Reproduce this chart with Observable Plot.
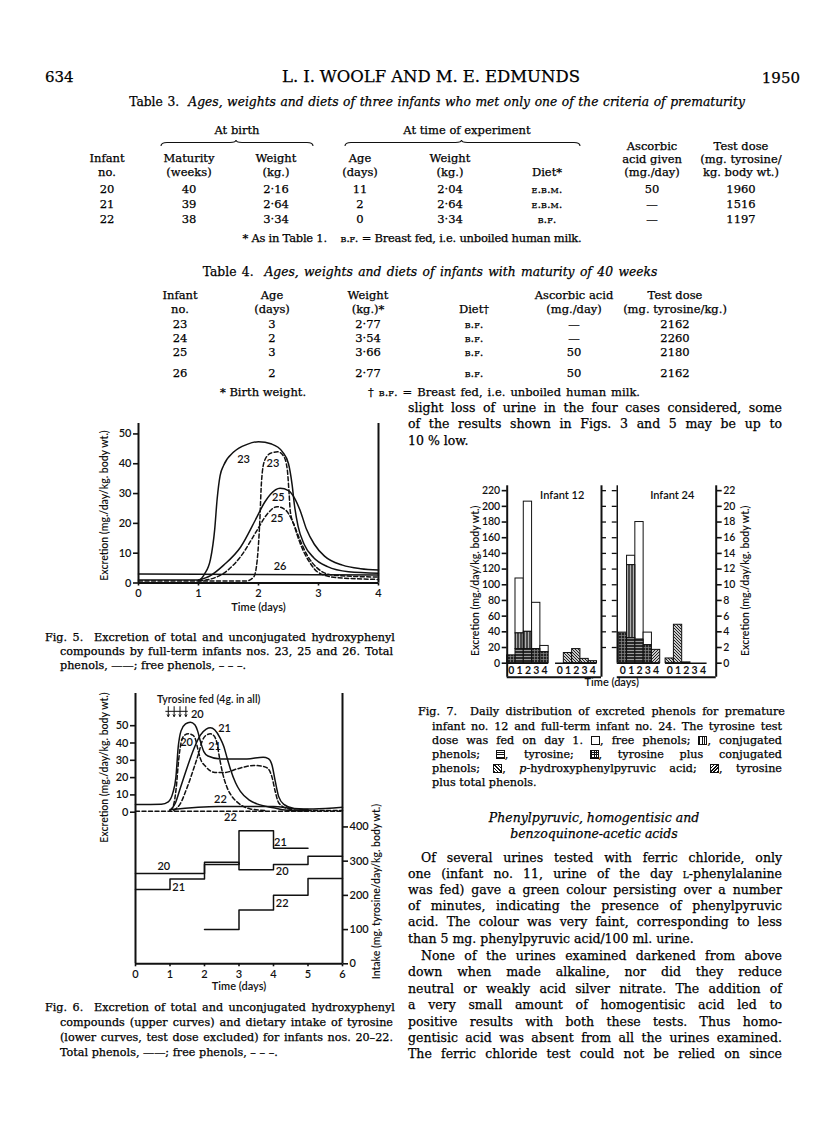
<!DOCTYPE html>
<html><head><meta charset="utf-8">
<script src="https://cdn.jsdelivr.net/npm/d3@7"></script>
<script src="https://cdn.jsdelivr.net/npm/@observablehq/plot@0.6"></script>
<style>
html,body{margin:0;padding:0;background:#fff;}
body{width:816px;height:1145px;position:relative;overflow:hidden;font-family:"DejaVu Serif",serif;color:#000;}
.t{position:absolute;white-space:nowrap;line-height:1;-webkit-text-stroke:0.25px #000;}
.sc{font-variant:small-caps;}
.fig{position:absolute;}
.fig svg{position:absolute;left:0;top:0;overflow:visible;max-width:none !important;background:transparent !important;}
.sw{display:inline-block;width:9px;height:9px;border:1px solid #111;box-sizing:border-box;vertical-align:-1px;background:#fff;}
.sw.conj{background:repeating-linear-gradient(90deg,#111 0 1px,#fff 1px 2.6px);}
.sw.tyr{background:repeating-linear-gradient(0deg,#111 0 1px,#fff 1px 2.6px);}
.sw.grid{background:repeating-linear-gradient(90deg,#111 0 1px,transparent 1px 2.6px),repeating-linear-gradient(0deg,#111 0 1px,#fff 1px 2.6px);}
.sw.php{background:repeating-linear-gradient(45deg,#111 0 1px,#fff 1px 2.4px);}
.sw.tt{background:repeating-linear-gradient(-45deg,#111 0 1.2px,#fff 1.2px 2.4px);}
</style>
</head><body>
<script>
// ================= DATA =================
// Table 3
const t3Infant = ["20", "21", "22"];
const t3Maturity = ["40", "39", "38"];
const t3BirthWeight = ["2·16", "2·64", "3·34"];
const t3Age = ["11", "2", "0"];
const t3Weight = ["2·04", "2·64", "3·34"];
const t3Diet = ["e.b.m.", "e.b.m.", "b.f."];
const t3Ascorbic = ["50", "—", "—"];
const t3Dose = ["1960", "1516", "1197"];
// Table 4
const t4Infant = ["23", "24", "25", "26"];
const t4Age = ["3", "2", "3", "2"];
const t4Weight = ["2·77", "3·54", "3·66", "2·77"];
const t4Diet = ["b.f.", "b.f.", "b.f.", "b.f."];
const t4Ascorbic = ["—", "—", "50", "50"];
const t4Dose = ["2162", "2260", "2180", "2162"];

// Fig. 5 : excretion (mg./day/kg.) vs time (days)
const fig5Days = [0, 1, 2, 3, 4];
const fig5Ticks = [0, 10, 20, 30, 40, 50];
const f5Total23 = [[0,1.0],[1.0,1.0],[1.1,3],[1.2,8],[1.27,18],[1.31,28],[1.36,36],[1.42,39.5],[1.59,44],[1.81,46.5],[2.0,47.4],[2.22,46.6],[2.4,44],[2.5,40],[2.56,33],[2.6,26],[2.66,19],[2.76,13],[2.92,8.5],[3.15,5.5],[3.5,3.8],[4,3.3]];
const f5Total25 = [[1.0,1.0],[1.2,2.5],[1.42,6],[1.7,12],[1.97,22],[2.1,27],[2.2,29.8],[2.36,31.8],[2.5,31],[2.6,28.5],[2.7,24],[2.8,18],[2.93,13],[3.1,9],[3.4,6],[3.7,4.8],[4,4.4]];
const f5Total26 = [[0,3.0],[4,2.7]];
const f5Free23 = [[0,0.7],[1.8,0.7],[1.92,2],[1.98,8],[2.02,20],[2.05,34],[2.1,41],[2.2,43.5],[2.32,44],[2.42,42.5],[2.48,38],[2.51,30],[2.53,24],[2.6,19],[2.7,13],[2.85,7],[3.0,3.5],[3.3,1.8],[4,1.2]];
const f5Free25 = [[1.0,0.7],[1.3,2],[1.5,4.5],[1.7,8.8],[1.97,17.5],[2.14,23],[2.31,25.6],[2.45,24.5],[2.56,21],[2.68,15],[2.82,9],[2.98,5],[3.2,2.8],[3.6,2.2],[4,2.0]];
const fig5Labels = [
  {t: "23", day: 1.75, v: 41.3}, {t: "23", day: 2.24, v: 40.2},
  {t: "25", day: 2.33, v: 28.6}, {t: "25", day: 2.31, v: 21.6},
  {t: "26", day: 2.36, v: 5.4}
];

// Fig. 6 : excretion (upper) and tyrosine intake (lower)
const fig6Days = [0, 1, 2, 3, 4, 5, 6];
const fig6ExcTicks = [0, 10, 20, 30, 40, 50];
const fig6IntakeTicks = [0, 100, 200, 300, 400];
const f6Total20 = [[0,4.4],[0.75,4.6],[0.95,6],[1.08,11],[1.17,20],[1.24,38],[1.32,47],[1.45,51],[1.59,52],[1.72,50.5],[1.8,47],[1.88,41],[1.98,35],[2.1,32.5],[2.46,30.8],[3.23,30.8],[3.7,31.8],[3.85,31],[3.96,27],[4.05,18],[4.15,9],[4.3,4.5],[4.6,2.2],[5.16,1.9],[6,2.9]];
const f6Total21 = [[1.0,1],[1.15,5],[1.3,14],[1.5,26],[1.69,36.5],[1.88,44.5],[2.05,48],[2.17,48.8],[2.3,47.5],[2.45,43],[2.56,38],[2.66,31],[2.75,25],[2.9,17],[3.04,12],[3.3,7],[3.52,4.8],[4.0,2.6],[4.39,1.2],[5,0.8]];
const f6Total22 = [[1.0,1.5],[2.4,3.3],[4.0,3.3],[4.5,2.2],[5.0,1.5]];
const f6Free20 = [[1.0,1],[1.1,4],[1.18,14],[1.25,30],[1.32,40],[1.42,44.5],[1.54,45.3],[1.66,44.5],[1.74,42],[1.8,37],[1.88,31],[2.03,26.5],[2.3,23],[2.6,23],[2.94,25],[3.43,27],[3.7,26.5],[3.85,25],[3.96,20],[4.05,12],[4.15,5.5],[4.39,2.2],[4.78,1],[6,1]];
const f6Free21 = [[1.11,1],[1.3,5],[1.5,14.5],[1.7,26],[1.83,34],[1.93,41],[2.05,44.5],[2.17,45.3],[2.28,44],[2.36,40],[2.43,32],[2.52,23],[2.65,14.5],[2.8,9],[2.94,6],[3.33,1.9],[3.8,1]];
const f6Free22 = [[0,0.6],[6,0.6]];
const fig6ExcLabels = [
  {t: "20", day: 1.79, v: 56.2}, {t: "21", day: 2.58, v: 48.4},
  {t: "20", day: 1.48, v: 40.5}, {t: "21", day: 2.29, v: 37.8},
  {t: "22", day: 2.46, v: 7.4}, {t: "22", day: 2.75, v: -3.2}
];
const tyrosineFeedDays = [0.95, 1.12, 1.29, 1.46];
// intake, mg. tyrosine/day/kg. — one value per day
const intake20 = [264, 264, 297, 275, 290, 314];   // days 0–5
const intake21 = [217, 248, 290, 389, 338];        // days 0–4
const intake22 = [100, 157, 200, 249];             // days 2–5
const intake22Start = 2;
const fig6IntakeLabels = [
  {t: "20", day: 0.82, v: 285}, {t: "21", day: 1.25, v: 224},
  {t: "21", day: 4.2, v: 356}, {t: "20", day: 4.25, v: 269},
  {t: "22", day: 4.25, v: 177}
];

// Fig. 7 : daily excretion, mg./day/kg. (infant 12 on left axis, infant 24 on right axis)
const days7 = [0, 1, 2, 3, 4];
const fig7LeftTicks = [0,20,40,60,80,100,120,140,160,180,200,220];
const inf12Tyrosine   = [0, 18, 18, 0, 0];
const inf12Conjugated = [0, 20, 22, 0, 0];
const inf12TyrConj    = [10, 0, 0, 18, 14];
const inf12TyrTotal   = [0, 0, 0, 0, 0];
const inf12Free       = [0, 70, 166, 59, 8];
const inf12PHPP       = [0, 13, 18, 5.5, 2.6];
const inf24Tyrosine   = [0, 3.2, 3.0, 0, 0];
const inf24Conjugated = [0, 9.3, 0, 0, 0];
const inf24TyrConj    = [3.9, 0, 0, 2.3, 0];
const inf24TyrTotal   = [0, 0, 0, 0, 1.7];
const inf24Free       = [0, 1.2, 15.0, 1.6, 0];
const inf24PHPP       = [0.6, 4.9, 0.1, 0, 0];
const inf24AxisRatio = 10; // right axis = left axis / 10

// ================= TEXT LAYOUT =================
const lines = [];
function put(html, x, y, o = {}) { lines.push({html, x, y, o}); }
function layoutText() {
  for (const L of lines) {
    const o = L.o, d = document.createElement("div");
    d.className = "t";
    d.innerHTML = L.html;
    d.style.fontSize = (o.size || 12.5) + "px";
    if (o.italic) d.style.fontStyle = "italic";
    if (o.family) d.style.fontFamily = o.family;
    document.body.appendChild(d);
    let r = d.getBoundingClientRect(), w = r.width;
    if (o.w) {
      const n = (d.textContent.match(/ /g) || []).length;
      const extra = o.w - w;
      if (n > 0 && extra / n > -0.8) d.style.wordSpacing = (extra / n) + "px";
      else d.style.letterSpacing = (extra / d.textContent.length) + "px";
      r = d.getBoundingClientRect(); w = r.width;
    }
    const left = o.align === "center" ? L.x - w / 2 : o.align === "right" ? L.x - w : L.x;
    d.style.left = left + "px";
    d.style.top = (L.y - r.height / 2) + "px";
  }
}
function brace(x, y, w) {
  const h = 7, r = 6, s = document.createElementNS("http://www.w3.org/2000/svg", "svg");
  s.setAttribute("width", w + 2); s.setAttribute("height", h + 2);
  s.style.cssText = `position:absolute;left:${x - 1}px;top:${y}px;overflow:visible`;
  const m = w / 2;
  s.innerHTML = `<path d="M1,${h} Q1,${h/2} ${1+r},${h/2} L${m-r},${h/2} Q${m},${h/2} ${m},1 Q${m},${h/2} ${m+r},${h/2} L${w+1-r},${h/2} Q${w+1},${h/2} ${w+1},${h}" fill="none" stroke="#111" stroke-width="1.1"/>`;
  document.body.appendChild(s);
}

// header
put("634", 45, 77, {size: 15});
put("L. I. WOOLF AND M. E. EDMUNDS", 431, 77, {size: 16.5, w: 298, align: "center"});
put("1950", 800, 78, {size: 15, align: "right"});

// Table 3
put('Table 3.&nbsp; <i>Ages, weights and diets of three infants who met only one of the criteria of prematurity</i>', 437, 102, {size: 12.3, w: 615, align: "center"});
put("At birth", 237, 131, {size: 11.5, align: "center"});
put("At time of experiment", 467, 131, {size: 11.5, align: "center"});
brace(161, 139, 152); brace(345, 139, 235);
const c3 = [107, 189, 276, 360, 450, 547, 652, 741];
[["Infant","no."],["Maturity","(weeks)"],["Weight","(kg.)"],["Age","(days)"],["Weight","(kg.)"],[null,"Diet*"]].forEach((h, i) => {
  if (h[0]) put(h[0], c3[i], 159, {size: 11.5, align: "center"});
  put(h[1], c3[i], 173, {size: 11.5, align: "center"});
});
[["Ascorbic","acid given","(mg./day)"],["Test dose","(mg. tyrosine/","kg. body wt.)"]].forEach((h, i) => {
  h.forEach((s, k) => put(s, c3[6 + i], [147, 160, 173][k], {size: 11.5, align: "center"}));
});
const t3Cols = [t3Infant, t3Maturity, t3BirthWeight, t3Age, t3Weight, t3Diet, t3Ascorbic, t3Dose];
[190, 205, 220].forEach((y, r) => t3Cols.forEach((col, i) => {
  const v = col[r];
  put(i === 5 ? `<span class="sc">${v}</span>` : v, c3[i], y, {size: 11.5, align: "center"});
}));
put('* As in Table 1.&nbsp;&nbsp;&nbsp; <span class="sc">b.f.</span> = Breast fed, i.e. unboiled human milk.', 412, 239, {size: 11.5, align: "center", w: 339});

// Table 4
put('Table 4.&nbsp; <i>Ages, weights and diets of infants with maturity of 40 weeks</i>', 430, 272, {size: 12.3, w: 453, align: "center"});
const c4 = [180, 272, 368, 474, 574, 675];
[["Infant","no."],["Age","(days)"],["Weight","(kg.)*"],[null,"Diet†"],["Ascorbic acid","(mg./day)"],["Test dose","(mg. tyrosine/kg.)"]].forEach((h, i) => {
  if (h[0]) put(h[0], c4[i], 296, {size: 11.5, align: "center"});
  put(h[1], c4[i], 310, {size: 11.5, align: "center"});
});
const t4Cols = [t4Infant, t4Age, t4Weight, t4Diet, t4Ascorbic, t4Dose];
[325, 339, 353, 374].forEach((y, r) => t4Cols.forEach((col, i) => {
  const v = col[r];
  put(i === 3 ? `<span class="sc">${v}</span>` : v, c4[i], y, {size: 11.5, align: "center"});
}));
put("* Birth weight.", 220, 393, {size: 11.5});
put('† <span class="sc">b.f.</span> = Breast fed, i.e. unboiled human milk.', 368, 393, {size: 11.5, w: 272});

// right column text
const RX = 408, RW = 374, IND = 13;
put("slight loss of urine in the four cases considered, some", RX, 408, {w: RW});
put("of the results shown in Figs. 3 and 5 may be up to", RX, 424, {w: RW});
put("10 % low.", RX, 441);

// Fig captions
put("Fig. 5.&nbsp; Excretion of total and unconjugated hydroxyphenyl", 45, 638, {size: 11.2, w: 348});
put("compounds by full-term infants nos. 23, 25 and 26. Total", 60, 652, {size: 11.2, w: 333});
put("phenols, ——; free phenols, – – –.", 60, 666, {size: 11.2});

put("Fig. 6.&nbsp; Excretion of total and unconjugated hydroxyphenyl", 45, 1008, {size: 11.2, w: 348});
put("compounds (upper curves) and dietary intake of tyrosine", 60, 1023, {size: 11.2, w: 333});
put("(lower curves, test dose excluded) for infants nos. 20–22.", 60, 1038, {size: 11.2, w: 333});
put("Total phenols, ——; free phenols, – – –.", 60, 1053, {size: 11.2});

put("Fig. 7.&nbsp; Daily distribution of excreted phenols for premature", 418, 712, {size: 11.2, w: 364});
put("infant no. 12 and full-term infant no. 24. The tyrosine test", 432, 727, {size: 11.2, w: 350});
put('dose was fed on day 1. <span class="sw"></span>, free phenols; <span class="sw conj"></span>, conjugated', 432, 741, {size: 11.2, w: 350});
put('phenols; <span class="sw tyr"></span>, tyrosine; <span class="sw grid"></span>, tyrosine plus conjugated', 432, 755, {size: 11.2, w: 350});
put('phenols; <span class="sw php"></span>, <i>p</i>-hydroxyphenylpyruvic acid; <span class="sw tt"></span>, tyrosine', 432, 769, {size: 11.2, w: 350});
put("plus total phenols.", 432, 783, {size: 11.2});

put("<i>Phenylpyruvic, homogentisic and</i>", 594, 818, {align: "center"});
put("<i>benzoquinone-acetic acids</i>", 594, 834, {align: "center"});
const para = [
  ["Of several urines tested with ferric chloride, only", 858, true, true],
  ['one (infant no. 11, urine of the day <span class="sc">l</span>-phenylalanine', 874, false, true],
  ["was fed) gave a green colour persisting over a number", 890, false, true],
  ["of minutes, indicating the presence of phenylpyruvic", 906, false, true],
  ["acid. The colour was very faint, corresponding to less", 922, false, true],
  ["than 5 mg. phenylpyruvic acid/100 ml. urine.", 939, false, false],
  ["None of the urines examined darkened from above", 956, true, true],
  ["down when made alkaline, nor did they reduce", 972, false, true],
  ["neutral or weakly acid silver nitrate. The addition of", 989, false, true],
  ["a very small amount of homogentisic acid led to", 1005, false, true],
  ["positive results with both these tests. Thus homo-", 1022, false, true],
  ["gentisic acid was absent from all the urines examined.", 1038, false, true],
  ["The ferric chloride test could not be relied on since", 1054, false, true]
];
para.forEach(([s, y, ind, j]) => put(s, ind ? RX + IND : RX, y, j ? {w: ind ? RW - IND : RW} : {}));

layoutText();

// ================= CHARTS =================
const ink = "#111";
const chartStyle = {background: "transparent", fontFamily: "Lato, 'Open Sans', sans-serif", fontSize: "11px", fontWeight: 600, color: ink, overflow: "visible"};
const rowsOf = (arr, id) => arr.map(([day, v]) => ({id, day, v}));
const intFmt = d => String(d);
function figBox(x, y, w, h) {
  const d = document.createElement("div"); d.className = "fig";
  d.style.left = x + "px"; d.style.top = y + "px"; d.style.width = w + "px"; d.style.height = h + "px";
  document.body.appendChild(d); return d;
}
function safe(f, x, y) {
  try { f(); } catch (e) {
    const d = document.createElement("div"); d.className = "t"; d.style.left = x + "px"; d.style.top = y + "px";
    d.style.fontSize = "10px"; d.textContent = "ERR: " + e.message; document.body.appendChild(d);
  }
}

// ---- Fig 5 ----
safe(() => {
  const solid = [...rowsOf(f5Total23, "23"), ...rowsOf(f5Total25, "25"), ...rowsOf(f5Total26, "26")];
  const dashed = [...rowsOf(f5Free23, "23"), ...rowsOf(f5Free25, "25")];
  const svg = Plot.plot({
    width: 330, height: 205, marginLeft: 78, marginRight: 12, marginTop: 8, marginBottom: 37.5,
    x: {domain: [0, 4]}, y: {domain: [0, 53.5]},
    style: chartStyle,
    marks: [
      Plot.ruleX([0, 4], {stroke: ink, strokeWidth: 2}),
      Plot.ruleY([0], {stroke: ink, strokeWidth: 2}),
      Plot.axisY({ticks: fig5Ticks, tickFormat: intFmt, tickSize: 5, tickPadding: 2, strokeWidth: 1.6, label: null}),
      Plot.axisX({ticks: fig5Days, tickFormat: intFmt, tickSize: 3, tickPadding: 3, strokeWidth: 1.6, label: null}),
      Plot.line(solid, {x: "day", y: "v", z: "id", curve: "monotone-x", stroke: ink, strokeWidth: 1.5}),
      Plot.line(dashed, {x: "day", y: "v", z: "id", curve: "monotone-x", stroke: ink, strokeWidth: 1.5, strokeDasharray: "4,2.5"}),
      Plot.text(fig5Labels, {x: "day", y: "v", text: "t", fontSize: 11}),
      Plot.text(["Time (days)"], {frameAnchor: "bottom", dy: 28, fontSize: 11}),
      Plot.text(["Excretion (mg./day/kg. body wt.)"], {x: 0, y: 26, rotate: -90, dx: -34, fontSize: 10.5})
    ]
  });
  figBox(60, 415, 330, 205).appendChild(svg);
}, 60, 500);

// ---- Fig 6 ----
safe(() => {
  const W = 327, H = 315, mL = 75, mR = 45, mT = 8, mB = 36.7;
  const box = figBox(60, 685, W, H);
  const stepRows = (vals, start, id) => {
    const r = vals.map((v, i) => ({id, day: start + i, v}));
    r.push({id, day: start + vals.length, v: vals[vals.length - 1]});
    return r;
  };
  const steps = [...stepRows(intake20, 0, "20"), ...stepRows(intake21, 0, "21"), ...stepRows(intake22, intake22Start, "22")];
  const intakeSvg = Plot.plot({
    width: W, height: H, marginLeft: mL, marginRight: mR, marginTop: mT, marginBottom: mB,
    x: {domain: [0, 6]}, y: {domain: [0, 790]},
    style: chartStyle,
    marks: [
      Plot.ruleX([0, 6], {stroke: ink, strokeWidth: 2}),
      Plot.ruleY([0], {stroke: ink, strokeWidth: 2}),
      Plot.axisY({anchor: "right", ticks: fig6IntakeTicks, tickFormat: intFmt, tickSize: 5, tickPadding: 2, strokeWidth: 1.6, label: null}),
      Plot.axisX({ticks: fig6Days, tickFormat: intFmt, tickSize: 3, tickPadding: 3, strokeWidth: 1.6, label: null}),
      Plot.line(steps, {x: "day", y: "v", z: "id", curve: "step-after", stroke: ink, strokeWidth: 1.5}),
      Plot.text(fig6IntakeLabels, {x: "day", y: "v", text: "t", fontSize: 11}),
      Plot.text(["Time (days)"], {frameAnchor: "bottom", dy: 26, fontSize: 11}),
      Plot.text(["Intake (mg. tyrosine/day/kg. body wt.)"], {x: 6, y: 211, rotate: -90, dx: 34, fontSize: 10.5})
    ]
  });
  const solid = [...rowsOf(f6Total20, "20"), ...rowsOf(f6Total21, "21"), ...rowsOf(f6Total22, "22")];
  const dashed = [...rowsOf(f6Free20, "20"), ...rowsOf(f6Free21, "21"), ...rowsOf(f6Free22, "22")];
  const excSvg = Plot.plot({
    width: W, height: H, marginLeft: mL, marginRight: mR, marginTop: mT, marginBottom: mB,
    x: {domain: [0, 6], axis: null}, y: {domain: [-87.6, 68.6]},
    style: chartStyle,
    marks: [
      Plot.axisY({ticks: fig6ExcTicks, tickFormat: intFmt, tickSize: 5, tickPadding: 2, strokeWidth: 1.6, label: null}),
      Plot.line(solid, {x: "day", y: "v", z: "id", curve: "monotone-x", stroke: ink, strokeWidth: 1.5}),
      Plot.line(dashed, {x: "day", y: "v", z: "id", curve: "monotone-x", stroke: ink, strokeWidth: 1.5, strokeDasharray: "4,2.5"}),
      Plot.text(fig6ExcLabels, {x: "day", y: "v", text: "t", fontSize: 11}),
      Plot.ruleY([58.3], {x1: d3.min(tyrosineFeedDays) - 0.07, x2: d3.max(tyrosineFeedDays) + 0.07, stroke: ink, strokeWidth: 1}),
      Plot.arrow(tyrosineFeedDays, {x1: d => d, x2: d => d, y1: 61, y2: 55.3, headLength: 3, stroke: ink, strokeWidth: 1}),
      Plot.text(["Tyrosine fed (4g. in all)"], {x: 2.12, y: 65.2, fontSize: 10.5}),
      Plot.text(["Excretion (mg./day/kg. body wt.)"], {x: 0, y: 25.8, rotate: -90, dx: -31, fontSize: 10.5})
    ]
  });
  box.appendChild(intakeSvg);
  box.appendChild(excSvg);
}, 60, 800);

// ---- Fig 7 ----
safe(() => {
  const L = {g1_12: 0, g2_12: 5.83, mid1: 11.37, mid2: 13.27, g1_24: 13.45, g2_24: 19.1, right: 25.2, yBottom: -17.86, yTop: 226.2};
  const parts = ["tyrosine", "conjugated", "tyrConj", "tyrTotal", "free"];
  const inf12 = {tyrosine: inf12Tyrosine, conjugated: inf12Conjugated, tyrConj: inf12TyrConj, tyrTotal: inf12TyrTotal, free: inf12Free};
  const inf24 = {tyrosine: inf24Tyrosine, conjugated: inf24Conjugated, tyrConj: inf24TyrConj, tyrTotal: inf24TyrTotal, free: inf24Free};
  const rects = [];
  function stack(src, ratio, offset) {
    days7.forEach((day, i) => {
      let y = 0;
      for (const p of parts) {
        const v = src[p][i] * ratio;
        if (v > 0) { rects.push({pattern: p, x1: offset + day, x2: offset + day + 1, y1: y, y2: y + v}); y += v; }
      }
    });
  }
  function single(vals, ratio, offset) {
    days7.forEach((day, i) => { const v = vals[i] * ratio; if (v > 0) rects.push({pattern: "php", x1: offset + day, x2: offset + day + 1, y1: 0, y2: v}); });
  }
  stack(inf12, 1, L.g1_12); single(inf12PHPP, 1, L.g2_12);
  stack(inf24, inf24AxisRatio, L.g1_24); single(inf24PHPP, inf24AxisRatio, L.g2_24);
  const fills = {free: "#fff", tyrosine: "url(#p7-tyr)", conjugated: "url(#p7-conj)", tyrConj: "url(#p7-grid)", tyrTotal: "url(#p7-tt)", php: "url(#p7-php)"};
  const dayLabels = [L.g1_12, L.g2_12, L.g1_24, L.g2_24].flatMap(off => days7.map(day => ({off, day})));
  const midTicks = fig7LeftTicks.filter(d => d > 0);
  const svg = Plot.plot({
    width: 305, height: 217, marginLeft: 51.7, marginRight: 44.3, marginTop: 7.3, marginBottom: 18.3,
    x: {domain: [0, L.right], axis: null}, y: {domain: [L.yBottom, L.yTop]},
    style: {...chartStyle, fontSize: "10.5px"},
    marks: [
      ...Object.keys(fills).map(p => Plot.rect(rects.filter(r => r.pattern === p), {x1: "x1", x2: "x2", y1: "y1", y2: "y2", fill: fills[p], stroke: ink, strokeWidth: 1})),
      Plot.ruleX([0, L.right, L.mid1], {stroke: ink, strokeWidth: 2}),
      Plot.ruleX([L.mid2], {y1: 0, y2: L.yTop, stroke: ink, strokeWidth: 1.5}),
      Plot.ruleY([L.yBottom], {x1: 0, x2: L.mid1, stroke: ink, strokeWidth: 2}),
      Plot.ruleY([L.yBottom], {x1: L.mid2, x2: L.right, stroke: ink, strokeWidth: 2}),
      Plot.ruleY([0], {x1: L.g1_12, x2: L.g1_12 + 5, stroke: ink, strokeWidth: 1.5}),
      Plot.ruleY([0], {x1: L.g2_12, x2: L.g2_12 + 5, stroke: ink, strokeWidth: 1.5}),
      Plot.ruleY([0], {x1: L.mid2, x2: L.g1_24 + 5, stroke: ink, strokeWidth: 1.5}),
      Plot.ruleY([0], {x1: L.g2_24, x2: L.g2_24 + 5, stroke: ink, strokeWidth: 1.5}),
      Plot.ruleY(midTicks, {x1: L.mid1, x2: L.mid1 + 0.6, stroke: ink, strokeWidth: 1.3}),
      Plot.ruleY(midTicks, {x1: L.mid2 - 0.6, x2: L.mid2, stroke: ink, strokeWidth: 1.3}),
      Plot.axisY({ticks: fig7LeftTicks, tickFormat: intFmt, tickSize: 5, tickPadding: 2, strokeWidth: 1.6, label: null}),
      Plot.axisY({anchor: "right", ticks: fig7LeftTicks, tickFormat: d => String(d / inf24AxisRatio), tickSize: 5, tickPadding: 2, strokeWidth: 1.6, label: null}),
      Plot.text(dayLabels, {x: d => d.off + d.day + 0.5, y: -9, text: d => String(d.day), fontSize: 10.5, fontWeight: 700}),
      Plot.text([{t: "Infant 12", x: 6.63}, {t: "Infant 24", x: 19.9}], {x: "x", y: 214, text: "t", fontSize: 11}),
      Plot.text(["Time (days)"], {frameAnchor: "bottom", dy: 9, fontSize: 11}),
      Plot.text(["Excretion (mg./day/kg. body wt.)"], {x: 0, y: 105, rotate: -90, dx: -32, fontSize: 10.5}),
      Plot.text(["Excretion (mg./day/kg. body wt.)"], {x: L.right, y: 105, rotate: -90, dx: 29, fontSize: 10.5})
    ]
  });
  const defs = d3.select(svg).insert("defs", ":first-child");
  const pat = (id, size, bg, draw) => {
    const p = defs.append("pattern").attr("id", id).attr("patternUnits", "userSpaceOnUse").attr("width", size).attr("height", size);
    p.append("rect").attr("width", size).attr("height", size).attr("fill", bg);
    draw(p, size);
  };
  const ln = (p, x1, y1, x2, y2, c, w) => p.append("line").attr("x1", x1).attr("y1", y1).attr("x2", x2).attr("y2", y2).attr("stroke", c).attr("stroke-width", w);
  pat("p7-tyr", 3, "#2a2a2a", (p, s) => ln(p, 0, 1.5, s, 1.5, "#aaa", 0.9));
  pat("p7-conj", 3, "#4a4a4a", (p, s) => ln(p, 1.5, 0, 1.5, s, "#bbb", 0.9));
  pat("p7-grid", 3, "#222", (p, s) => { ln(p, 0, 1.5, s, 1.5, "#888", 0.7); ln(p, 1.5, 0, 1.5, s, "#888", 0.7); });
  pat("p7-php", 3, "#c8c8c8", (p, s) => { ln(p, 0, 0, s, s, "#222", 1); ln(p, -s, 0, 0, s, "#222", 1); ln(p, s, 0, 2 * s, s, "#222", 1); });
  pat("p7-tt", 3, "#c8c8c8", (p, s) => { ln(p, 0, s, s, 0, "#222", 1); ln(p, -s, s, 0, 0, "#222", 1); ln(p, s, s, 2 * s, 0, "#222", 1); });
  figBox(455, 478, 305, 217).appendChild(svg);
}, 460, 600);
</script>
</body></html>
